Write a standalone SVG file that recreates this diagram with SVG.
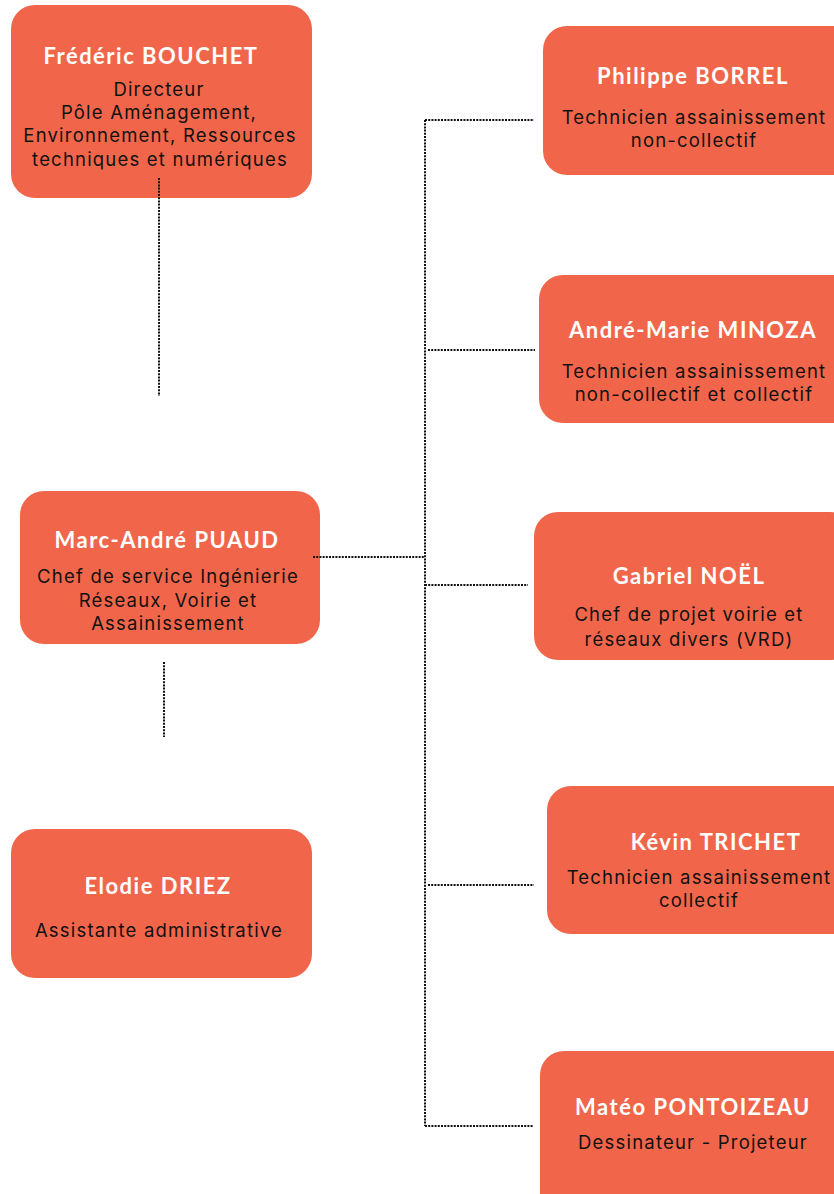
<svg xmlns="http://www.w3.org/2000/svg" width="834" height="1194" viewBox="0 0 834 1194">
<style>
.box{fill:#F1664A}
.nm{font-family:Lato,"Open Sans",sans-serif;font-weight:bold;font-size:22px;fill:#fff;text-anchor:middle;letter-spacing:1.5px}
.ds{font-family:Inter,"Liberation Sans",sans-serif;font-size:18.5px;fill:#111;text-anchor:middle;letter-spacing:1.2px}
.cn{fill:none;stroke:#111;stroke-width:2;stroke-dasharray:2 1.2}
</style>
<rect width="834" height="1194" fill="#fff"/>
<g id="frederic">
<rect class="box" x="11" y="5" width="301" height="193" rx="24"/>
<text class="nm" x="151" y="64">Frédéric BOUCHET</text>
<text class="ds" x="159" y="96">Directeur</text>
<text class="ds" x="159" y="119">Pôle Aménagement,</text>
<text class="ds" x="160" y="142">Environnement, Ressources</text>
<text class="ds" x="160" y="166">techniques et numériques</text>
</g>
<g id="marc">
<rect class="box" x="20" y="491" width="300" height="153" rx="24"/>
<text class="nm" x="167" y="548">Marc-André PUAUD</text>
<text class="ds" x="168" y="583">Chef de service Ingénierie</text>
<text class="ds" x="168" y="607">Réseaux, Voirie et</text>
<text class="ds" x="168" y="630">Assainissement</text>
</g>
<g id="elodie">
<rect class="box" x="11" y="829" width="301" height="149" rx="24"/>
<text class="nm" x="158" y="894">Elodie DRIEZ</text>
<text class="ds" x="159" y="937">Assistante administrative</text>
</g>
<g id="philippe">
<rect class="box" x="543" y="26" width="320" height="149" rx="24"/>
<text class="nm" x="693" y="84">Philippe BORREL</text>
<text class="ds" x="694" y="124">Technicien assainissement</text>
<text class="ds" x="694" y="147">non-collectif</text>
</g>
<g id="andremarie">
<rect class="box" x="539" y="275" width="320" height="148" rx="24"/>
<text class="nm" x="693" y="338">André-Marie MINOZA</text>
<text class="ds" x="694" y="378">Technicien assainissement</text>
<text class="ds" x="694" y="401">non-collectif et collectif</text>
</g>
<g id="gabriel">
<rect class="box" x="534" y="512" width="320" height="148" rx="24"/>
<text class="nm" x="689" y="584">Gabriel NOËL</text>
<text class="ds" x="689" y="621">Chef de projet voirie et</text>
<text class="ds" x="689" y="646">réseaux divers (VRD)</text>
</g>
<g id="kevin">
<rect class="box" x="547" y="786" width="320" height="148" rx="24"/>
<text class="nm" x="716" y="850">Kévin TRICHET</text>
<text class="ds" x="699" y="884">Technicien assainissement</text>
<text class="ds" x="699" y="907">collectif</text>
</g>
<g id="mateo">
<rect class="box" x="540" y="1051" width="320" height="170" rx="24"/>
<text class="nm" x="693" y="1115">Matéo PONTOIZEAU</text>
<text class="ds" x="693" y="1149">Dessinateur - Projeteur</text>
</g>
<g id="connectors">
<path class="cn" d="M159 178V396"/>
<path class="cn" d="M164 662V737"/>
<path class="cn" d="M313 557H425"/>
<path class="cn" d="M425 120V1126"/>
<path class="cn" d="M425 120H534"/>
<path class="cn" d="M428 350H535"/>
<path class="cn" d="M425 585H528"/>
<path class="cn" d="M428 885H534"/>
<path class="cn" d="M425 1126H533"/>
</g>
</svg>
